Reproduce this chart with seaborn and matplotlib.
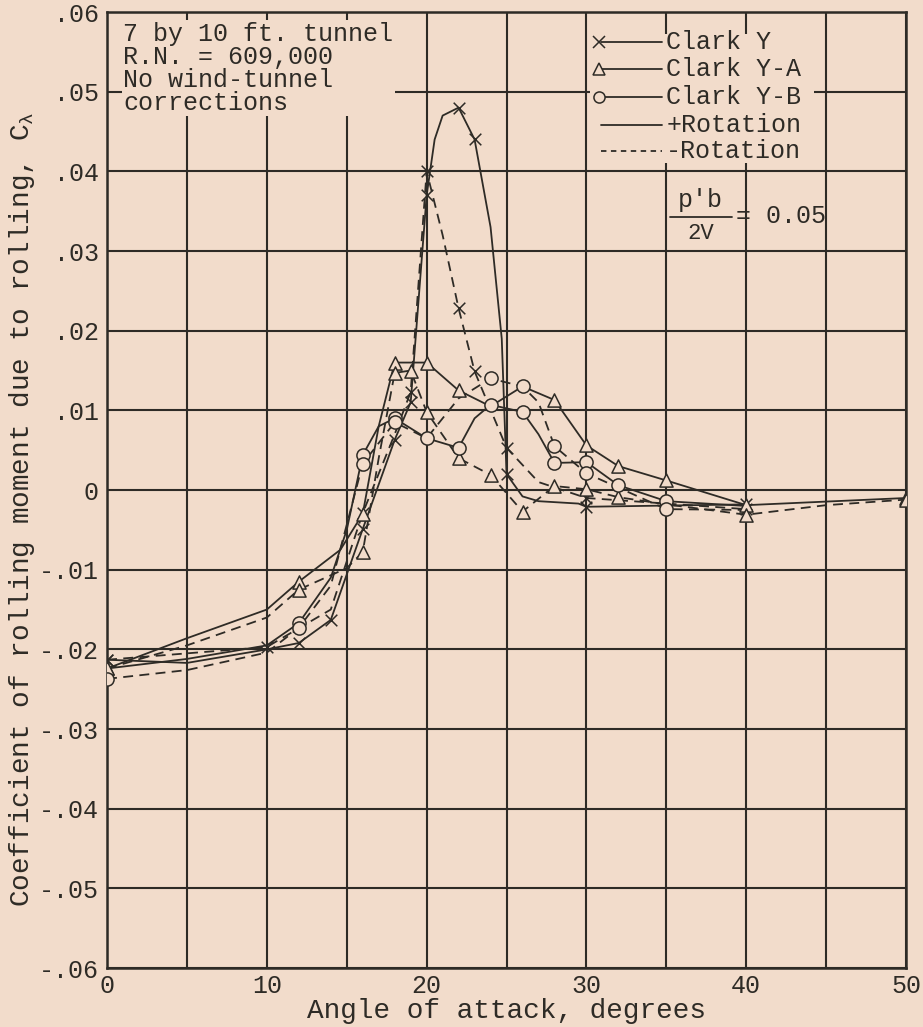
import numpy as np
import pandas as pd
import matplotlib
matplotlib.use("Agg")
import matplotlib.pyplot as plt
from matplotlib.lines import Line2D
from matplotlib.patches import Rectangle
import seaborn as sns

# === Data (angle of attack, C_lambda, marker shown?) ===
cy_pos_a = [0, 5, 10, 12, 14, 16, 18, 19, 20, 20.5, 21, 22, 23, 24, 24.7, 25, 26, 27, 29.5, 30, 40]
cy_pos_c = [-0.0213, -0.0217, -0.0200, -0.0192, -0.0163, -0.0049, 0.0063, 0.0110, 0.0370, 0.0440, 0.0470,
            0.0480, 0.0440, 0.0330, 0.0190, 0.0020, -0.0008, -0.0014, -0.0017, -0.0021, -0.0018]
cy_pos_m = [1, 0, 0, 1, 1, 1, 1, 1, 1, 0, 0, 1, 1, 0, 0, 1, 0, 0, 0, 1, 1]

cy_neg_a = [0, 5, 10, 14, 16, 18, 19, 20, 21, 22, 23, 25, 27, 30, 40]
cy_neg_c = [-0.0213, -0.0205, -0.0197, -0.0150, -0.0029, 0.0070, 0.0123, 0.0400, 0.0320, 0.0228, 0.0149,
            0.0053, 0.0010, -0.0010, -0.0024]
cy_neg_m = [1, 0, 1, 0, 1, 0, 1, 1, 0, 1, 1, 1, 0, 1, 1]

ya_pos_a = [0, 5, 10, 12, 14.6, 16, 17, 18, 20, 22, 24, 26, 28, 30, 32, 35, 40, 50]
ya_pos_c = [-0.0224, -0.0186, -0.0150, -0.0115, -0.0075, -0.0030, 0.0080, 0.0160, 0.0160, 0.0125, 0.0105,
            0.0130, 0.0113, 0.0056, 0.0030, 0.0012, -0.0019, -0.0010]
ya_pos_m = [1, 0, 0, 1, 0, 1, 0, 1, 1, 1, 0, 0, 1, 1, 1, 1, 1, 1]

ya_neg_a = [0, 5, 10, 12, 15, 16, 17, 18, 19, 20, 22, 24, 26, 28, 30, 32, 35, 40, 45, 50]
ya_neg_c = [-0.0224, -0.0195, -0.0160, -0.0125, -0.0098, -0.0078, 0.0040, 0.0147, 0.0150, 0.0098, 0.0040,
            0.0019, -0.0027, 0.0005, 0.0001, -0.0009, -0.0018, -0.0031, -0.0019, -0.0012]
ya_neg_m = [1, 0, 0, 1, 0, 1, 0, 1, 1, 1, 1, 1, 1, 1, 1, 1, 0, 1, 0, 1]

yb_pos_a = [0, 5, 10, 12, 14, 15, 16, 17, 18, 20, 22, 23, 24, 26, 27, 28, 30, 32, 35, 40]
yb_pos_c = [-0.0224, -0.0212, -0.0195, -0.0167, -0.0110, -0.0050, 0.0044, 0.0080, 0.0090, 0.0065, 0.0053,
            0.0090, 0.0107, 0.0098, 0.0070, 0.0034, 0.0035, 0.0006, -0.0014, -0.0020]
yb_pos_m = [0, 0, 0, 1, 0, 0, 1, 0, 1, 1, 1, 0, 1, 1, 0, 1, 1, 1, 1, 0]

yb_neg_a = [0, 5, 10, 12, 14, 16, 18, 20, 22, 24, 26, 27, 28, 30, 35, 40]
yb_neg_c = [-0.0237, -0.0226, -0.0204, -0.0173, -0.0120, 0.0033, 0.0085, 0.0065, 0.0115, 0.0140, 0.0130,
            0.0110, 0.0055, 0.0021, -0.0024, -0.0025]
yb_neg_m = [1, 0, 0, 1, 0, 1, 1, 0, 0, 1, 1, 0, 1, 1, 1, 0]

x_ticks = [0, 10, 20, 30, 40, 50]
y_ticks = [0.06, 0.05, 0.04, 0.03, 0.02, 0.01, 0, -0.01, -0.02, -0.03, -0.04, -0.05, -0.06]
y_tick_labels = ['.06', '.05', '.04', '.03', '.02', '.01', '0', '-.01', '-.02', '-.03', '-.04', '-.05', '-.06']

legend_labels = ['Clark Y', 'Clark Y-A', 'Clark Y-B', '+Rotation', '-Rotation']

series = [
    ('Clark Y', '+', cy_pos_a, cy_pos_c, cy_pos_m),
    ('Clark Y', '-', cy_neg_a, cy_neg_c, cy_neg_m),
    ('Clark Y-A', '+', ya_pos_a, ya_pos_c, ya_pos_m),
    ('Clark Y-A', '-', ya_neg_a, ya_neg_c, ya_neg_m),
    ('Clark Y-B', '+', yb_pos_a, yb_pos_c, yb_pos_m),
    ('Clark Y-B', '-', yb_neg_a, yb_neg_c, yb_neg_m),
]

# === Style ===
paper = '#F2DCCB'
ink = '#2E2B26'
markers = {'Clark Y': 'x', 'Clark Y-A': '^', 'Clark Y-B': 'o'}
dashes = {'+': '-', '-': (0, (5.5, 3.5))}

sns.set_theme(style='white')
plt.rcParams['font.family'] = ['Liberation Mono', 'DejaVu Sans Mono']
plt.rcParams['mathtext.fontset'] = 'custom'
plt.rcParams['mathtext.rm'] = 'Liberation Mono'
plt.rcParams['mathtext.it'] = 'Liberation Mono'

fig = plt.figure(figsize=(9.23, 10.27), dpi=100, facecolor=paper)
ax = fig.add_axes([0.116, 0.0574, 0.8656, 0.9309])
ax.set_facecolor(paper)

for name, rot, a, c, m in series:
    df = pd.DataFrame({'a': a, 'c': c, 'm': m})
    sns.lineplot(data=df, x='a', y='c', ax=ax, color=ink, lw=1.3, linestyle=dashes[rot], sort=False)
    pts = df[df['m'] == 1]
    mk = markers[name]
    if mk == 'x':
        ax.scatter(pts['a'], pts['c'], marker='x', s=70, color=ink, linewidths=1.1, zorder=4)
    else:
        ax.scatter(pts['a'], pts['c'], marker=mk, s=90, facecolors=paper, edgecolors=ink,
                   linewidths=1.1, zorder=4)

ax.set_xlim(0, 50)
ax.set_ylim(-0.06, 0.06)
ax.set_xticks(x_ticks)
ax.set_xticklabels([str(v) for v in x_ticks], fontsize=18)
ax.set_xticks(np.arange(5, 50, 10), minor=True)
ax.set_yticks(y_ticks)
ax.set_yticklabels(y_tick_labels, fontsize=18)
ax.grid(True, which='both', color=ink, lw=1.5)
ax.tick_params(axis='both', which='both', length=0, colors=ink)
ax.tick_params(axis='x', pad=4)
ax.tick_params(axis='y', pad=6)
for sp in ax.spines.values():
    sp.set_color(ink)
    sp.set_linewidth(1.8)

ax.set_xlabel('Angle of attack, degrees', fontsize=20, color=ink, labelpad=0)
ax.set_ylabel(r"Coefficient of rolling moment due to rolling, C$_\lambda$", fontsize=20, color=ink)
ax.yaxis.set_label_coords(-0.088, 0.48)

# upper-left note
ax.text(0.02, 0.99, "7 by 10 ft. tunnel\nR.N. = 609,000\nNo wind-tunnel\ncorrections",
        transform=ax.transAxes, va='top', ha='left', fontsize=18, color=ink, linespacing=0.95,
        bbox=dict(facecolor=paper, edgecolor='none', pad=1), zorder=5)

# legend drawn by hand: marker at left end of the sample line
ax.add_patch(Rectangle((0.605, 0.842), 0.28, 0.135, transform=ax.transAxes,
                       facecolor=paper, edgecolor='none', zorder=5))
row_y = [0.969, 0.940, 0.911, 0.882, 0.855]
leg_styles = [('x', '-'), ('^', '-'), ('o', '-'), (None, '-'), (None, (0, (3, 2.5)))]
for yy, lab, (mk, ls) in zip(row_y, legend_labels, leg_styles):
    ax.add_line(Line2D([0.618, 0.695], [yy, yy], transform=ax.transAxes, color=ink, lw=1.3,
                       linestyle=ls, zorder=6))
    if mk is not None:
        ax.add_line(Line2D([0.616], [yy], transform=ax.transAxes, marker=mk, markersize=8,
                           color=ink, markerfacecolor=paper, markeredgewidth=1.1, zorder=7))
    ax.text(0.700, yy, lab, transform=ax.transAxes, fontsize=18, color=ink, va='center', ha='left',
            zorder=7)

# p'b/2V = 0.05
ax.text(0.743, 0.803, "p'b", transform=ax.transAxes, fontsize=18, color=ink, ha='center', va='center',
        zorder=7)
ax.add_line(Line2D([0.705, 0.782], [0.786, 0.786], transform=ax.transAxes, color=ink, lw=1.3, zorder=7))
ax.text(0.743, 0.768, "2V", transform=ax.transAxes, fontsize=16, color=ink, ha='center', va='center',
        zorder=7)
ax.text(0.787, 0.787, "= 0.05", transform=ax.transAxes, fontsize=18, color=ink, ha='left', va='center',
        zorder=7)

fig.savefig('out.png', dpi=100, facecolor=paper)
